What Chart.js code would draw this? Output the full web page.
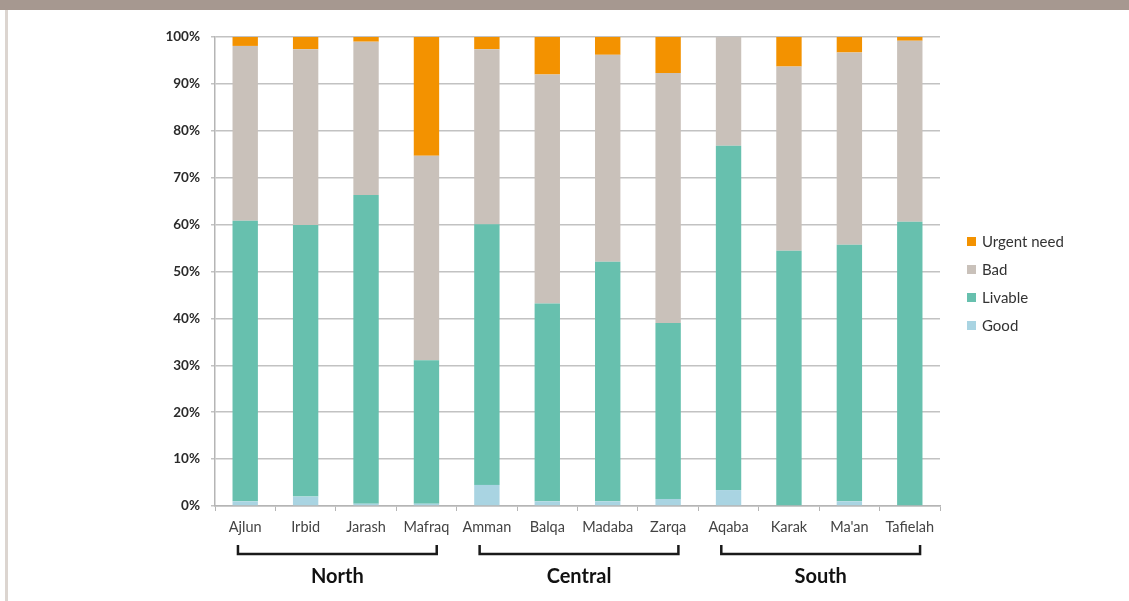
<!DOCTYPE html>
<html>
<head>
<meta charset="utf-8">
<script src="https://cdn.jsdelivr.net/npm/chart.js@4/dist/chart.umd.min.js"></script>
<style>
  html, body { margin: 0; padding: 0; background: #fff; }
  body { width: 1129px; height: 601px; position: relative; overflow: hidden; font-family: Lato, "Open Sans", sans-serif; }
  #topband { position: absolute; left: 0; top: 0; width: 1129px; height: 10px; background: #a69890; }
  #leftline { position: absolute; left: 5px; top: 10px; width: 3px; height: 591px; background: #dcd5d0; }
  #wrap { position: absolute; left: 0; top: 0; width: 1129px; height: 601px; }
  #legend { position: absolute; left: 967px; top: 227px; }
  .item { height: 28px; display: flex; align-items: center; font-size: 15px; color: #333; }
  .item span.sw { display: inline-block; width: 9px; height: 9px; margin-right: 6px; }
</style>
</head>
<body>
<div id="topband"></div>
<div id="leftline"></div>
<div id="wrap"><canvas id="housingChart" width="1129" height="601"></canvas></div>
<div id="legend"></div>
<script>
// governorates, bottom to top stack: Good, Livable, Bad, Urgent need (percent)
const governorates = ['Ajlun', 'Irbid', 'Jarash', 'Mafraq', 'Amman', 'Balqa', 'Madaba', 'Zarqa', 'Aqaba', 'Karak', "Ma'an", 'Tafielah'];
const good    = [1.0, 2.0, 0.5, 0.5, 4.5, 1.0, 1.0, 1.5, 3.4, 0.0, 1.0, 0.0];
const livable = [59.8, 57.9, 65.8, 30.6, 55.6, 42.2, 51.1, 37.5, 73.4, 54.4, 54.7, 60.6];
const bad     = [37.3, 37.5, 32.7, 43.6, 37.3, 48.8, 44.1, 53.3, 23.2, 39.3, 41.0, 38.6];
const urgent  = [1.9, 2.6, 1.0, 25.3, 2.6, 8.0, 3.8, 7.7, 0.0, 6.3, 3.3, 0.8];

const regions = ['North', 'Central', 'South'];
const regionFirst = [0, 4, 8];
const regionLast  = [3, 7, 11];

const yTicks = [0, 10, 20, 30, 40, 50, 60, 70, 80, 90, 100];

const series = [
    { label: 'Good', data: good, color: '#a9d4e2' },
    { label: 'Livable', data: livable, color: '#67c0ae' },
    { label: 'Bad', data: bad, color: '#c9c1ba' },
    { label: 'Urgent need', data: urgent, color: '#f39200' }
];

const fontFamily = 'Lato, "Open Sans", sans-serif';

// brackets + region names under the category labels
const regionBrackets = {
    id: 'regionBrackets',
    afterDraw(chart) {
        const x = chart.scales.x;
        const c = chart.ctx;
        const step = x.getPixelForValue(1) - x.getPixelForValue(0);
        const lineY = 554;
        c.save();
        c.strokeStyle = '#1a1a1a';
        c.lineWidth = 2.5;
        regions.forEach((name, i) => {
            const x0 = x.getPixelForValue(regionFirst[i]) - step * 0.12;
            const x1 = x.getPixelForValue(regionLast[i]) + step * 0.17;
            c.beginPath();
            c.moveTo(x0, lineY - 9);
            c.lineTo(x0, lineY);
            c.lineTo(x1, lineY);
            c.lineTo(x1, lineY - 9);
            c.stroke();
            c.fillStyle = '#111';
            c.font = 'bold 20px ' + fontFamily;
            c.textAlign = 'center';
            c.textBaseline = 'middle';
            c.fillText(name, (x0 + x1) / 2, 577);
        });
        c.restore();
    }
};

const ctx = document.getElementById('housingChart').getContext('2d');
const chart = new Chart(ctx, {
    type: 'bar',
    data: {
        labels: governorates,
        datasets: series.map(s => ({
            label: s.label,
            data: s.data,
            backgroundColor: s.color,
            borderWidth: 0,
            barPercentage: 0.42,
            categoryPercentage: 1
        }))
    },
    plugins: [regionBrackets],
    options: {
        responsive: false,
        animation: false,
        layout: {
            padding: { left: 155, right: 189, top: 37, bottom: 55 }
        },
        plugins: {
            legend: { display: false },
            tooltip: { enabled: false }
        },
        scales: {
            x: {
                stacked: true,
                afterFit: (scale) => { scale.height = 40; },
                grid: {
                    offset: true,
                    drawOnChartArea: false,
                    tickLength: 5,
                    color: '#b5b5b5'
                },
                border: { color: '#b5b5b5', width: 1.5 },
                ticks: {
                    color: '#444',
                    padding: 8,
                    font: { family: fontFamily, size: 14.5 }
                }
            },
            y: {
                stacked: true,
                min: 0,
                max: 100,
                afterFit: (scale) => { scale.width = 60; },
                afterBuildTicks: (scale) => { scale.ticks = yTicks.map(v => ({ value: v })); },
                grid: {
                    color: '#c2c2c2',
                    lineWidth: 1.5,
                    tickLength: 4
                },
                border: { color: '#b5b5b5', width: 1.5 },
                ticks: {
                    color: '#2a2a2a',
                    padding: 11,
                    font: { family: fontFamily, size: 13.5, weight: 'bold' },
                    callback: (v) => v + '%'
                }
            }
        }
    }
});

// legend, top item first (reverse of stack order)
const legend = document.getElementById('legend');
series.slice().reverse().forEach(s => {
    const row = document.createElement('div');
    row.className = 'item';
    const sw = document.createElement('span');
    sw.className = 'sw';
    sw.style.background = s.color;
    row.appendChild(sw);
    row.appendChild(document.createTextNode(s.label));
    legend.appendChild(row);
});
</script>
</body>
</html>
